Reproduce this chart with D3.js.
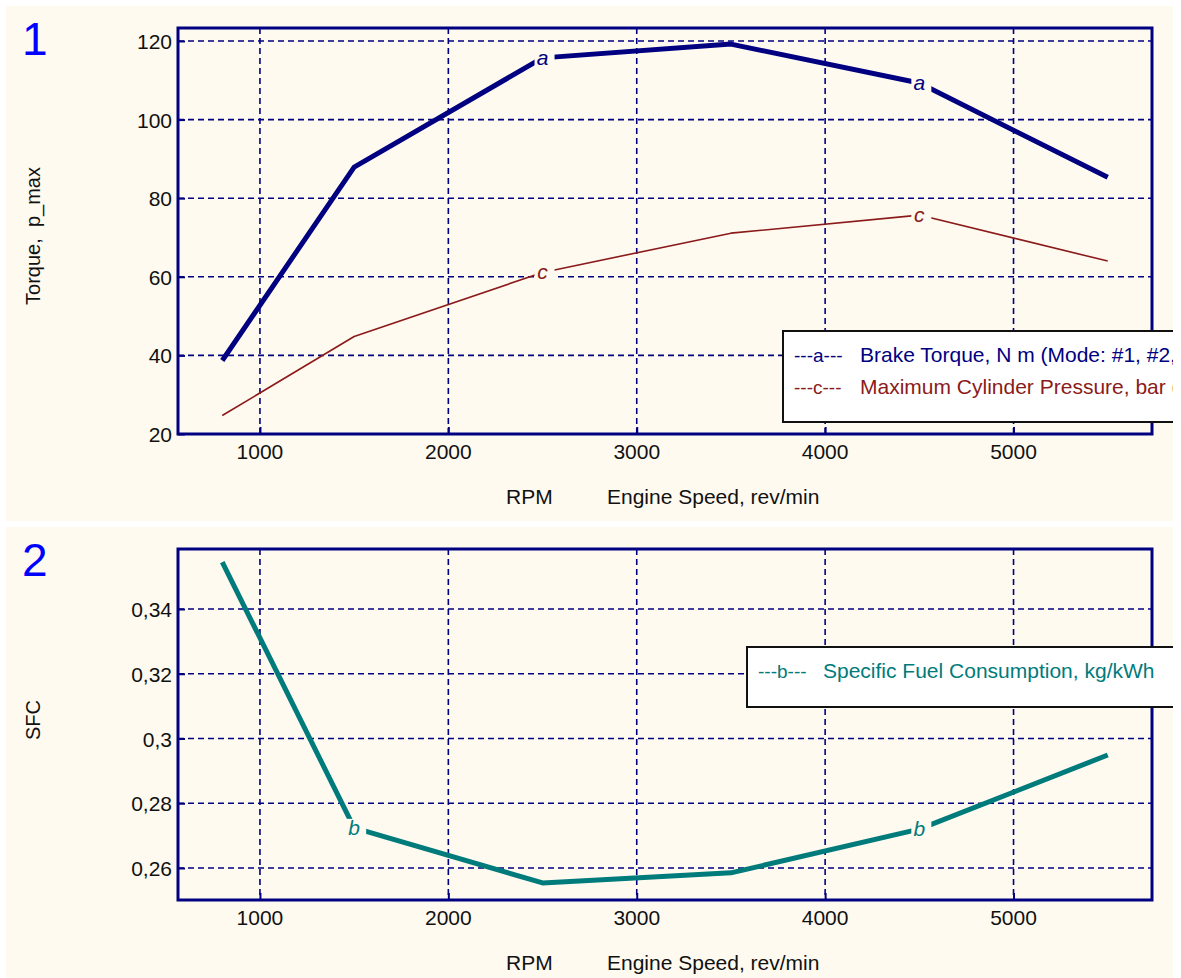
<!DOCTYPE html>
<html>
<head>
<meta charset="utf-8">
<script src="https://cdn.jsdelivr.net/npm/d3@7"></script>
<style>
  body { margin: 0; background: #ffffff; }
  svg { display: block; font-family: "Liberation Sans", Arial, sans-serif; }
  text { white-space: pre; }
</style>
</head>
<body>
<div id="chart"></div>
<script>
// engine speed points (rev/min)
const rpm = [800, 1500, 2500, 3500, 4500, 5500];

// panel 1 series
const brakeTorque = [38.7, 87.9, 115.7, 119.2, 109.3, 85.3];
const maxPressure = [24.7, 44.8, 61.1, 71.1, 75.7, 64.0];

// panel 2 series
const sfc = [0.3545, 0.2724, 0.2554, 0.2585, 0.272, 0.2949];

// ticks
const xTicks = [1000, 2000, 3000, 4000, 5000];
const torqueTicks = [20, 40, 60, 80, 100, 120];
const sfcTicks = [0.26, 0.28, 0.3, 0.32, 0.34];
const sfcTickLabels = ['0,26', '0,28', '0,3', '0,32', '0,34'];

// which points carry the letter marker
const markA = [2, 4];
const markC = [2, 4];
const markB = [1, 4];

const width = 1181;
const height = 978;
const bg = '#fefaf0';
const navy = '#000080';

const svg = d3.select('#chart')
  .append('svg')
  .attr('width', width)
  .attr('height', height);

svg.append('rect').attr('width', width).attr('height', height).attr('fill', '#ffffff');

function drawPanel(opts) {
  const clipId = 'clip' + opts.num;
  svg.append('clipPath').attr('id', clipId)
    .append('rect')
    .attr('x', opts.box.x).attr('y', opts.box.y)
    .attr('width', opts.box.w).attr('height', opts.box.h);

  const g = svg.append('g').attr('clip-path', `url(#${clipId})`);

  g.append('rect')
    .attr('x', opts.box.x).attr('y', opts.box.y)
    .attr('width', opts.box.w).attr('height', opts.box.h)
    .attr('fill', bg);

  // panel number
  g.append('text')
    .attr('x', 22).attr('y', opts.box.y + 49)
    .attr('font-size', 46)
    .attr('fill', '#0000ff')
    .text(opts.num);

  const x = d3.scaleLinear().domain([565, 5735]).range([178, 1152]);
  const y = d3.scaleLinear().domain(opts.yDomain).range([opts.plotBottom, opts.plotTop]);

  // gridlines (dashed)
  const grid = g.append('g')
    .attr('stroke', navy)
    .attr('stroke-width', 1.6)
    .attr('stroke-dasharray', '6,4');

  grid.selectAll('.vgrid').data(xTicks).join('line')
    .attr('class', 'vgrid')
    .attr('x1', (d) => x(d)).attr('x2', (d) => x(d))
    .attr('y1', opts.plotTop).attr('y2', opts.plotBottom);

  grid.selectAll('.hgrid').data(opts.yTicks.filter((d) => y(d) < opts.plotBottom - 2)).join('line')
    .attr('class', 'hgrid')
    .attr('x1', 178).attr('x2', 1152)
    .attr('y1', (d) => y(d)).attr('y2', (d) => y(d));

  // axes with short inward ticks
  const xAxis = d3.axisTop(x).tickValues(xTicks).tickSize(7).tickFormat('');
  g.append('g')
    .attr('transform', `translate(0, ${opts.plotBottom})`)
    .call(xAxis)
    .call((a) => a.select('.domain').remove())
    .call((a) => a.selectAll('line').attr('stroke', navy).attr('stroke-width', 2));

  const yAxis = d3.axisRight(y).tickValues(opts.yTicks).tickSize(7).tickFormat('');
  g.append('g')
    .attr('transform', 'translate(178, 0)')
    .call(yAxis)
    .call((a) => a.select('.domain').remove())
    .call((a) => a.selectAll('line').attr('stroke', navy).attr('stroke-width', 2));

  // tick labels
  g.selectAll('.xlab').data(xTicks).join('text')
    .attr('class', 'xlab')
    .attr('x', (d) => x(d))
    .attr('y', opts.plotBottom + 25)
    .attr('text-anchor', 'middle')
    .attr('font-size', 21)
    .attr('fill', '#111')
    .text((d) => d);

  g.selectAll('.ylab').data(opts.yTicks).join('text')
    .attr('class', 'ylab')
    .attr('x', 172)
    .attr('y', (d) => y(d) + 8)
    .attr('text-anchor', 'end')
    .attr('font-size', 21)
    .attr('fill', '#111')
    .text((d, i) => opts.yLabels[i]);

  // axis titles
  g.append('text')
    .attr('x', 506).attr('y', opts.plotBottom + 70)
    .attr('font-size', 21).attr('fill', '#111')
    .text('RPM');
  g.append('text')
    .attr('x', 607).attr('y', opts.plotBottom + 70)
    .attr('font-size', 21).attr('fill', '#111')
    .text('Engine Speed, rev/min');

  g.append('text')
    .attr('transform', `translate(40, ${opts.titleY}) rotate(-90)`)
    .attr('text-anchor', 'middle')
    .attr('font-size', 20).attr('fill', '#111')
    .text(opts.yTitle);

  // series
  const line = d3.line().x((d, i) => x(rpm[i])).y((d) => y(d));
  opts.series.forEach((s) => {
    g.append('path')
      .datum(s.values)
      .attr('fill', 'none')
      .attr('stroke', s.color)
      .attr('stroke-width', s.width)
      .attr('stroke-linejoin', 'round')
      .attr('d', line);

    // letter markers knock out the line behind them
    s.marks.forEach((i) => {
      const px = x(rpm[i]);
      const py = y(s.values[i]);
      g.append('rect')
        .attr('x', px - 8).attr('y', py - 9)
        .attr('width', 20).attr('height', 18)
        .attr('fill', bg);
      g.append('text')
        .attr('x', px).attr('y', py + 7)
        .attr('text-anchor', 'middle')
        .attr('font-size', 21)
        .attr('font-style', 'italic')
        .attr('fill', s.color)
        .text(s.letter);
    });
  });

  // plot frame
  g.append('rect')
    .attr('x', 178).attr('y', opts.plotTop)
    .attr('width', 1152 - 178).attr('height', opts.plotBottom - opts.plotTop)
    .attr('fill', 'none')
    .attr('stroke', navy)
    .attr('stroke-width', 3);

  // legend box (runs past the panel edge, clipped like the original)
  const lg = opts.legend;
  g.append('rect')
    .attr('x', lg.x).attr('y', lg.y)
    .attr('width', 500).attr('height', lg.h)
    .attr('fill', '#ffffff')
    .attr('stroke', '#111')
    .attr('stroke-width', 2);

  opts.series.forEach((s, i) => {
    const ty = lg.y + 31 + i * 32;
    g.append('text')
      .attr('x', lg.x + 11).attr('y', ty)
      .attr('font-size', 19).attr('fill', s.color)
      .text('---' + s.letter + '---');
    g.append('text')
      .attr('x', lg.x + lg.textOffset).attr('y', ty)
      .attr('font-size', 21).attr('fill', s.color)
      .text(s.label);
  });
}

drawPanel({
  num: '1',
  box: { x: 6, y: 6, w: 1167, h: 515 },
  plotTop: 28,
  plotBottom: 434,
  yDomain: [20, 123.3],
  yTicks: torqueTicks,
  yLabels: torqueTicks.map(String),
  yTitle: 'Torque,  p_max',
  titleY: 236,
  series: [
    { values: brakeTorque, color: '#000080', width: 5, letter: 'a', marks: markA,
      label: 'Brake Torque, N m (Mode: #1, #2, #3)' },
    { values: maxPressure, color: '#8b1a1a', width: 1.6, letter: 'c', marks: markC,
      label: 'Maximum Cylinder Pressure, bar (Mode: #1, #2, #3)' }
  ],
  legend: { x: 783, y: 331, h: 91, textOffset: 77 }
});

drawPanel({
  num: '2',
  box: { x: 6, y: 527, w: 1167, h: 451 },
  plotTop: 549,
  plotBottom: 900,
  yDomain: [0.25012, 0.35853],
  yTicks: sfcTicks,
  yLabels: sfcTickLabels,
  yTitle: 'SFC',
  titleY: 720,
  series: [
    { values: sfc, color: '#007b7b', width: 5, letter: 'b', marks: markB,
      label: 'Specific Fuel Consumption, kg/kWh' }
  ],
  legend: { x: 747, y: 647, h: 60, textOffset: 76 }
});
</script>
</body>
</html>
